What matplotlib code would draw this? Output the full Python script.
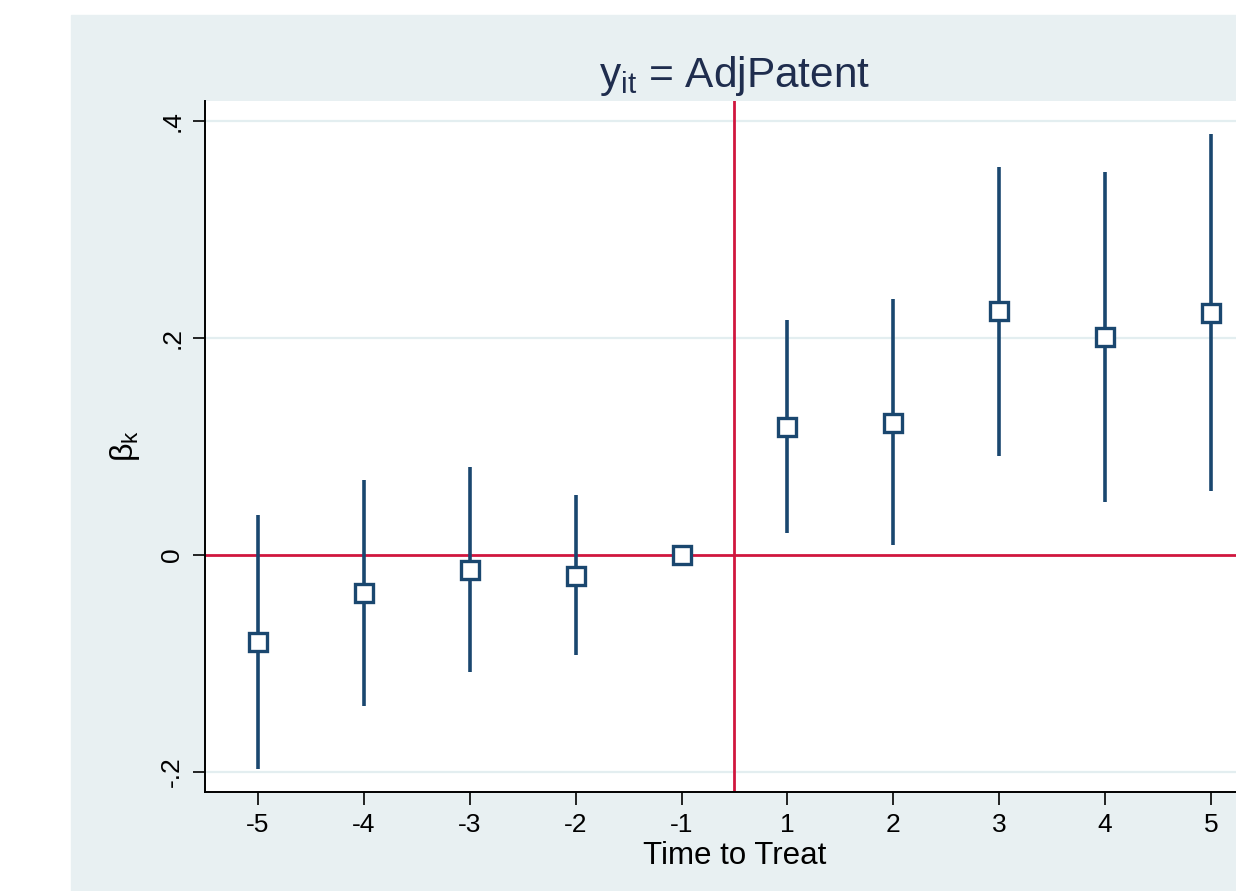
import matplotlib
matplotlib.use("Agg")
import matplotlib.pyplot as plt
from matplotlib.patches import Rectangle

plt.rcParams['font.family'] = ['Liberation Sans', 'DejaVu Sans']
plt.rcParams['mathtext.fontset'] = 'custom'
plt.rcParams['mathtext.rm'] = 'Liberation Sans'
plt.rcParams['mathtext.it'] = 'Liberation Sans'

# event-time coefficients
periods = ['-5', '-4', '-3', '-2', '-1', '1', '2', '3', '4', '5']
beta = [-0.080, -0.035, -0.014, -0.019, 0.0, 0.118, 0.122, 0.225, 0.201, 0.223]
ci_low = [-0.197, -0.139, -0.108, -0.092, 0.0, 0.020, 0.009, 0.091, 0.049, 0.059]
ci_high = [0.037, 0.069, 0.081, 0.055, 0.0, 0.217, 0.236, 0.358, 0.353, 0.388]
yticks = [-0.2, 0, 0.2, 0.4]
ytick_labels = ['-.2', '0', '.2', '.4']

navy = '#1a476f'
red = '#d0163e'
bg = '#e8f0f2'

fig = plt.figure(figsize=(12.36, 8.91), dpi=100)
fig.patches.append(Rectangle((71/1236, 0), 1 - 71/1236, (891-15)/891,
                             transform=fig.transFigure, color=bg, zorder=-10))

ax = fig.add_axes([205/1236, 99/891, 1059/1236, 691/891])
ax.set_facecolor('white')

x = list(range(len(periods)))
for i in x:
    if ci_high[i] != ci_low[i]:
        ax.plot([i, i], [ci_low[i], ci_high[i]], color=navy, lw=2.6, zorder=3,
                solid_capstyle='butt')
ax.plot(x, beta, 's', ms=13, mfc='white', mec=navy, mew=2.4, zorder=4)

ax.axhline(0, color=red, lw=2, zorder=2)
ax.axvline(4.5, color=red, lw=2, zorder=2)
for yt in [-0.2, 0.2, 0.4]:
    ax.axhline(yt, color='#e3eef0', lw=1.6, zorder=1)

ax.set_xlim(-0.5, 9.5)
ax.set_ylim(-0.2184, 0.4184)
ax.set_xticks(x)
ax.set_xticklabels(periods, fontsize=19)
ax.set_yticks(yticks)
ax.set_yticklabels(ytick_labels, fontsize=19, rotation=90, va='center')
ax.tick_params(length=9, width=1.2, color='black', pad=6)

for s in ['top', 'right']:
    ax.spines[s].set_visible(False)
for s in ['left', 'bottom']:
    ax.spines[s].set_linewidth(1.4)

ax.set_xlabel('Time to Treat', fontsize=22.5, labelpad=3)
ax.set_ylabel(r'$\beta_\mathregular{k}$', fontsize=23, labelpad=13)
ax.set_title(r'$\mathregular{y_{it}}$ = AdjPatent', fontsize=30.5, color='#1f2d4e', pad=10)

fig.savefig('out.png', dpi=100)
